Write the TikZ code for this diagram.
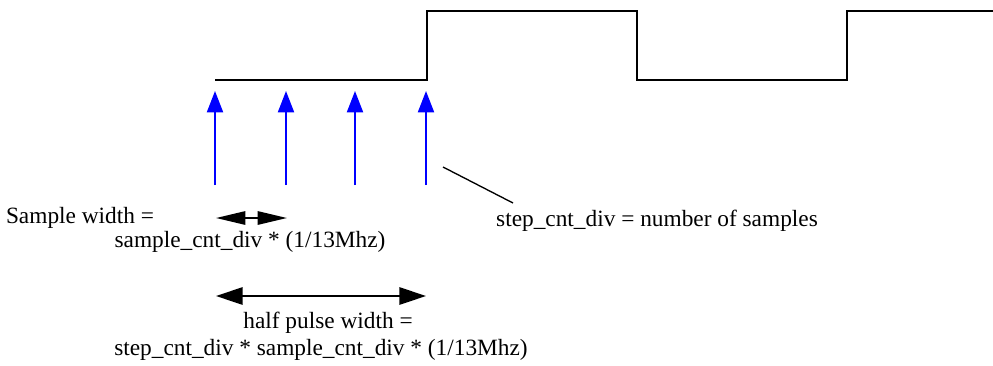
\documentclass[tikz,border=0pt]{standalone}
\usepackage{fontspec}
\setmainfont{Liberation Serif}
\usetikzlibrary{arrows.meta}
\tikzset{
  wave/.style={line width=1.5pt},
  sample/.style={blue, line width=1.5pt, -{Triangle[length=16pt,width=12pt]}},
  span/.style={line width=1.4pt, {Triangle[length=22pt,width=10pt]}-{Triangle[length=22pt,width=10pt]}},
  bigspan/.style={line width=1.4pt, {Triangle[length=20pt,width=13pt]}-{Triangle[length=20pt,width=13pt]}},
  label/.style={inner sep=0pt, font=\fontsize{17.5}{20}\selectfont}
}
\begin{document}
\begin{tikzpicture}[x=0.75pt,y=-0.75pt]
  \useasboundingbox (0,0) rectangle (993,365);
  % Waveform
  \coordinate (w0) at (215,80);
  \coordinate (w1) at (427,80);
  \coordinate (w2) at (427,11);
  \coordinate (w3) at (637,11);
  \coordinate (w4) at (637,80);
  \coordinate (w5) at (847,80);
  \coordinate (w6) at (847,11);
  \coordinate (w7) at (993,11);
  \draw[wave] (w0) -- (w1) -- (w2) -- (w3) -- (w4) -- (w5) -- (w6) -- (w7);
  % Sample arrows
  \foreach \n/\x in {1/215, 2/286, 3/355, 4/426} {
    \coordinate (s\n) at (\x,185);
    \coordinate (t\n) at (\x,91);
    \draw[sample] (s\n) -- (t\n);
  }
  % Step count label
  \node[label] (steplbl) at (657,221) {step\_cnt\_div = number of samples};
  \coordinate (lead) at (443,167);
  \draw[line width=1pt] (lead) -- (513,203);
  % Sample width
  \node[label] (samplbl) at (80,218) {Sample width =};
  \node[label] (sampfml) at (250,242) {sample\_cnt\_div * (1/13Mhz)};
  \coordinate (sa) at (216,218);
  \coordinate (sb) at (287,218);
  \draw[span] (sa) -- (sb);
  % Half pulse width
  \coordinate (ha) at (216,296);
  \coordinate (hb) at (426,296);
  \draw[bigspan] (ha) -- (hb);
  \node[label] (halflbl) at (328,323) {half pulse width =};
  \node[label] (halffml) at (321,350) {step\_cnt\_div * sample\_cnt\_div * (1/13Mhz)};
\end{tikzpicture}
\end{document}
